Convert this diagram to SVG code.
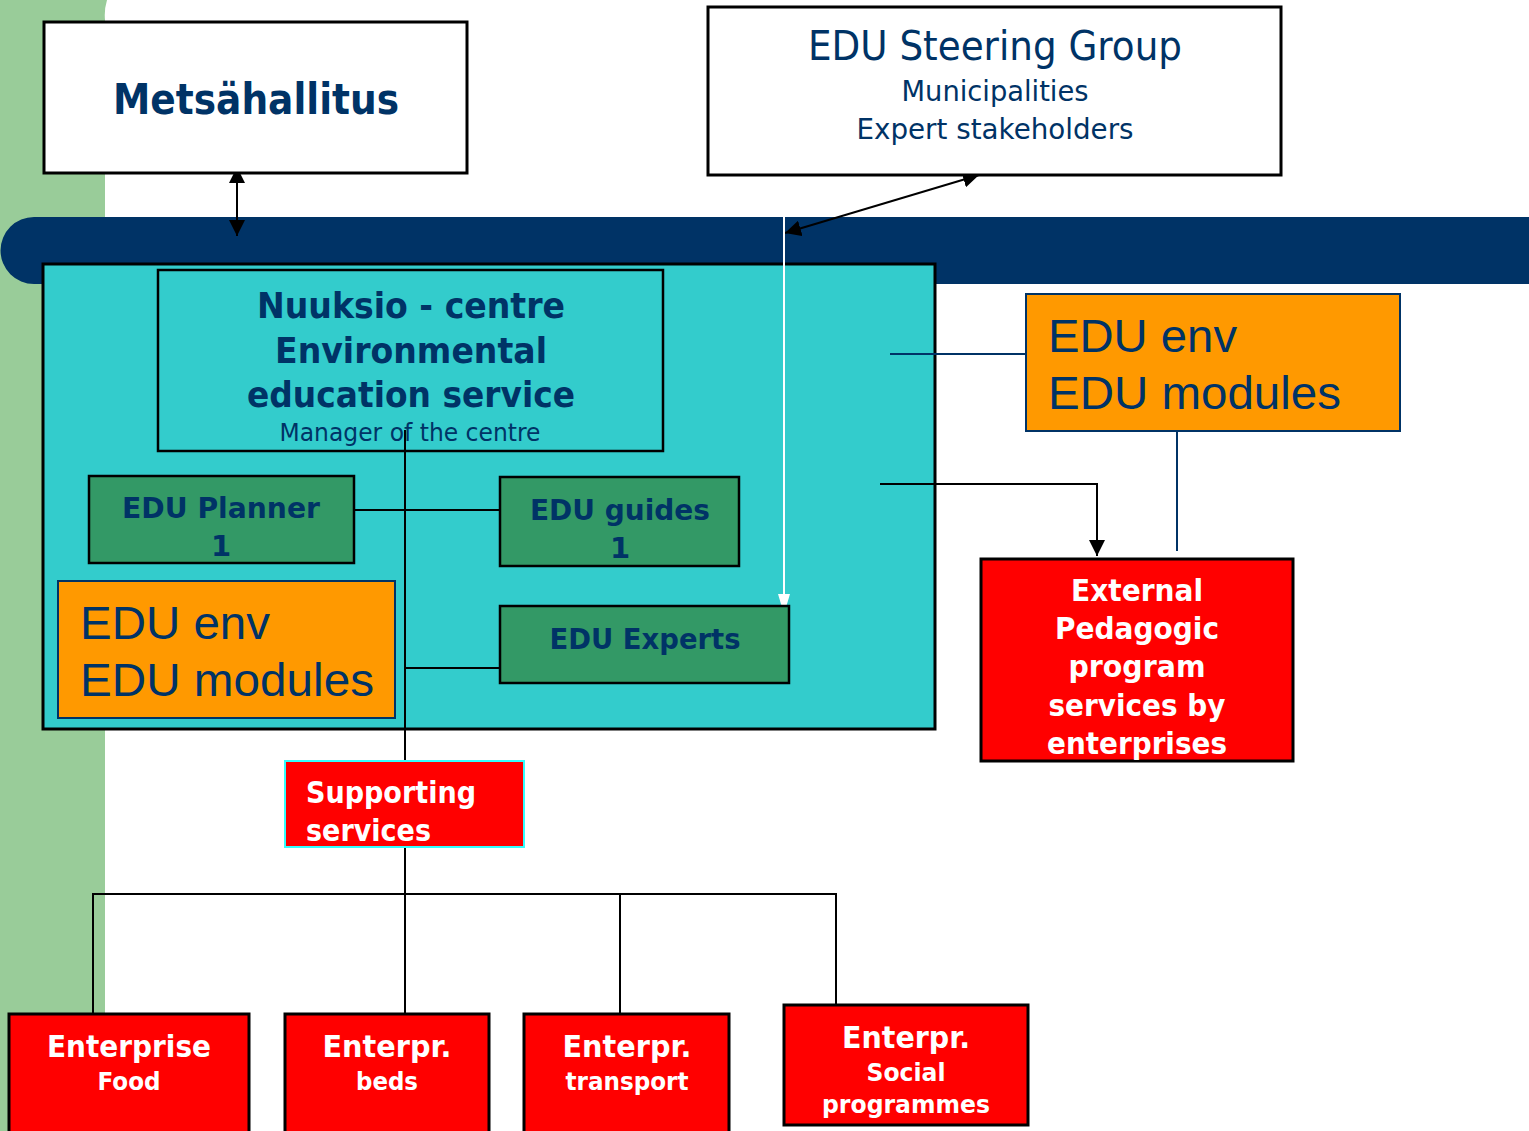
<svg xmlns="http://www.w3.org/2000/svg" width="1529" height="1131" viewBox="0 0 1529 1131">
<style>
.t{font-family:"DejaVu Sans",Verdana,sans-serif;fill:#003366}
.b{font-weight:bold}
.w{fill:#ffffff}
.a{font-family:"Liberation Sans",Arial,sans-serif;fill:#003366;font-size:47px}
.bx{stroke:#000;stroke-width:3}
.ln{stroke:#000;stroke-width:2;fill:none}
.bl{stroke:#003366;stroke-width:2;fill:none}
</style>
<defs>
<marker id="ah2" viewBox="0 0 10 10" refX="10" refY="5" markerWidth="16" markerHeight="16" orient="auto-start-reverse" markerUnits="userSpaceOnUse"><path d="M0,0 L10,5 L0,10 z" fill="#000"/></marker>
<marker id="ahw" viewBox="0 0 10 10" refX="10" refY="5" markerWidth="12" markerHeight="16" orient="auto" markerUnits="userSpaceOnUse"><path d="M0,0 L10,3 L10,7 L0,10 z" fill="#fff"/></marker>
</defs>
<rect width="1529" height="1131" fill="#fff"/>
<path d="M0,0 H107 Q104,10 105,20 V1131 H0 Z" fill="#99CC99"/>
<path d="M34,217 H1529 V284 H34 A33.5,33.5 0 0 1 34,217 Z" fill="#003366"/>

<g id="nuuksio-frame"><rect x="43" y="264" width="892" height="465" fill="#33CCCC" class="bx"/></g>

<g id="connectors">
<line x1="237" y1="167" x2="237" y2="236" class="ln" marker-start="url(#ah2)" marker-end="url(#ah2)"/>
<line x1="979" y1="175" x2="785" y2="233" class="ln" marker-start="url(#ah2)" marker-end="url(#ah2)"/>
<line x1="784" y1="217" x2="784" y2="606" stroke="#fff" stroke-width="2" marker-end="url(#ahw)"/>
<line x1="405" y1="430" x2="405" y2="761" class="ln"/>
<line x1="354" y1="510" x2="500" y2="510" class="ln"/>
<line x1="405" y1="668" x2="500" y2="668" class="ln"/>
<line x1="890" y1="354" x2="1026" y2="354" class="bl"/>
<polyline points="880,484 1097,484 1097,556" class="ln" marker-end="url(#ah2)"/>
<line x1="1177" y1="431" x2="1177" y2="551" class="bl"/>
<line x1="405" y1="847" x2="405" y2="1014" class="ln"/>
<polyline points="93,1014 93,894 836,894 836,1015" class="ln"/>
<line x1="620" y1="894" x2="620" y2="1014" class="ln"/>
</g>

<g id="metsahallitus">
<rect x="44" y="22" width="423" height="151" fill="#fff" class="bx"/>
<text x="256" y="114" class="t b" font-size="42" text-anchor="middle" textLength="286" lengthAdjust="spacingAndGlyphs">Metsähallitus</text>
</g>

<g id="steering">
<rect x="708" y="7" width="573" height="168" fill="#fff" class="bx"/>
<text x="995" y="60" class="t" font-size="40" text-anchor="middle" textLength="374" lengthAdjust="spacingAndGlyphs">EDU Steering Group</text>
<text x="995" y="101" class="t" font-size="29" text-anchor="middle" textLength="187" lengthAdjust="spacingAndGlyphs">Municipalities</text>
<text x="995" y="139" class="t" font-size="29" text-anchor="middle" textLength="277" lengthAdjust="spacingAndGlyphs">Expert stakeholders</text>
</g>

<g id="nuuksio">
<rect x="158" y="270" width="505" height="181" fill="none" stroke="#000" stroke-width="2.5"/>
<text x="411" y="318" class="t b" font-size="35" text-anchor="middle" textLength="308" lengthAdjust="spacingAndGlyphs">Nuuksio - centre</text>
<text x="411" y="363" class="t b" font-size="35" text-anchor="middle" textLength="272" lengthAdjust="spacingAndGlyphs">Environmental</text>
<text x="411" y="407" class="t b" font-size="35" text-anchor="middle" textLength="328" lengthAdjust="spacingAndGlyphs">education service</text>
<text x="410" y="441" class="t" font-size="25" text-anchor="middle" textLength="261" lengthAdjust="spacingAndGlyphs">Manager of the centre</text>
</g>

<g id="edu-planner">
<rect x="89" y="476" width="265" height="87" fill="#339966" stroke="#000" stroke-width="2.5"/>
<text x="221" y="518" class="t b" font-size="29" text-anchor="middle" textLength="198" lengthAdjust="spacingAndGlyphs">EDU Planner</text>
<text x="221" y="556" class="t b" font-size="29" text-anchor="middle">1</text>
</g>

<g id="edu-guides">
<rect x="500" y="477" width="239" height="89" fill="#339966" stroke="#000" stroke-width="2.5"/>
<text x="620" y="520" class="t b" font-size="29" text-anchor="middle" textLength="180" lengthAdjust="spacingAndGlyphs">EDU guides</text>
<text x="620" y="558" class="t b" font-size="29" text-anchor="middle">1</text>
</g>

<g id="edu-experts">
<rect x="500" y="606" width="289" height="77" fill="#339966" stroke="#000" stroke-width="2.5"/>
<text x="645" y="649" class="t b" font-size="29" text-anchor="middle" textLength="191" lengthAdjust="spacingAndGlyphs">EDU Experts</text>
</g>

<g id="edu-env-left">
<rect x="58" y="581" width="337" height="137" fill="#FF9900" stroke="#003366" stroke-width="2"/>
<text x="80" y="639" class="a" textLength="190" lengthAdjust="spacingAndGlyphs">EDU env</text>
<text x="80" y="696" class="a" textLength="294" lengthAdjust="spacingAndGlyphs">EDU modules</text>
</g>

<g id="edu-env-right">
<rect x="1026" y="294" width="374" height="137" fill="#FF9900" stroke="#003366" stroke-width="2"/>
<text x="1048" y="352" class="a" textLength="189" lengthAdjust="spacingAndGlyphs">EDU env</text>
<text x="1048" y="409" class="a" textLength="293" lengthAdjust="spacingAndGlyphs">EDU modules</text>
</g>

<g id="external">
<rect x="981" y="559" width="312" height="202" fill="#FF0000" class="bx"/>
<text x="1137" y="601" class="t b w" font-size="30" text-anchor="middle" textLength="132" lengthAdjust="spacingAndGlyphs">External</text>
<text x="1137" y="639" class="t b w" font-size="30" text-anchor="middle" textLength="164" lengthAdjust="spacingAndGlyphs">Pedagogic</text>
<text x="1137" y="677" class="t b w" font-size="30" text-anchor="middle" textLength="137" lengthAdjust="spacingAndGlyphs">program</text>
<text x="1137" y="716" class="t b w" font-size="30" text-anchor="middle" textLength="177" lengthAdjust="spacingAndGlyphs">services by</text>
<text x="1137" y="754" class="t b w" font-size="30" text-anchor="middle" textLength="180" lengthAdjust="spacingAndGlyphs">enterprises</text>
</g>

<g id="supporting">
<rect x="285" y="761" width="239" height="86" fill="#FF0000" stroke="#33FFFF" stroke-width="2"/>
<text x="306" y="803" class="t b w" font-size="30" textLength="170" lengthAdjust="spacingAndGlyphs">Supporting</text>
<text x="306" y="841" class="t b w" font-size="30" textLength="125" lengthAdjust="spacingAndGlyphs">services</text>
</g>

<g id="food">
<rect x="9" y="1014" width="240" height="125" fill="#FF0000" class="bx"/>
<text x="129" y="1057" class="t b w" font-size="30" text-anchor="middle" textLength="164" lengthAdjust="spacingAndGlyphs">Enterprise</text>
<text x="129" y="1090" class="t b w" font-size="25" text-anchor="middle" textLength="63" lengthAdjust="spacingAndGlyphs">Food</text>
</g>

<g id="beds">
<rect x="285" y="1014" width="204" height="125" fill="#FF0000" class="bx"/>
<text x="387" y="1057" class="t b w" font-size="30" text-anchor="middle" textLength="129" lengthAdjust="spacingAndGlyphs">Enterpr.</text>
<text x="387" y="1090" class="t b w" font-size="25" text-anchor="middle" textLength="62" lengthAdjust="spacingAndGlyphs">beds</text>
</g>

<g id="transport">
<rect x="524" y="1014" width="205" height="125" fill="#FF0000" class="bx"/>
<text x="627" y="1057" class="t b w" font-size="30" text-anchor="middle" textLength="129" lengthAdjust="spacingAndGlyphs">Enterpr.</text>
<text x="627" y="1090" class="t b w" font-size="25" text-anchor="middle" textLength="123" lengthAdjust="spacingAndGlyphs">transport</text>
</g>

<g id="social">
<rect x="784" y="1005" width="244" height="120" fill="#FF0000" class="bx"/>
<text x="906" y="1048" class="t b w" font-size="30" text-anchor="middle" textLength="128" lengthAdjust="spacingAndGlyphs">Enterpr.</text>
<text x="906" y="1081" class="t b w" font-size="25" text-anchor="middle" textLength="79" lengthAdjust="spacingAndGlyphs">Social</text>
<text x="906" y="1113" class="t b w" font-size="25" text-anchor="middle" textLength="168" lengthAdjust="spacingAndGlyphs">programmes</text>
</g>
</svg>
